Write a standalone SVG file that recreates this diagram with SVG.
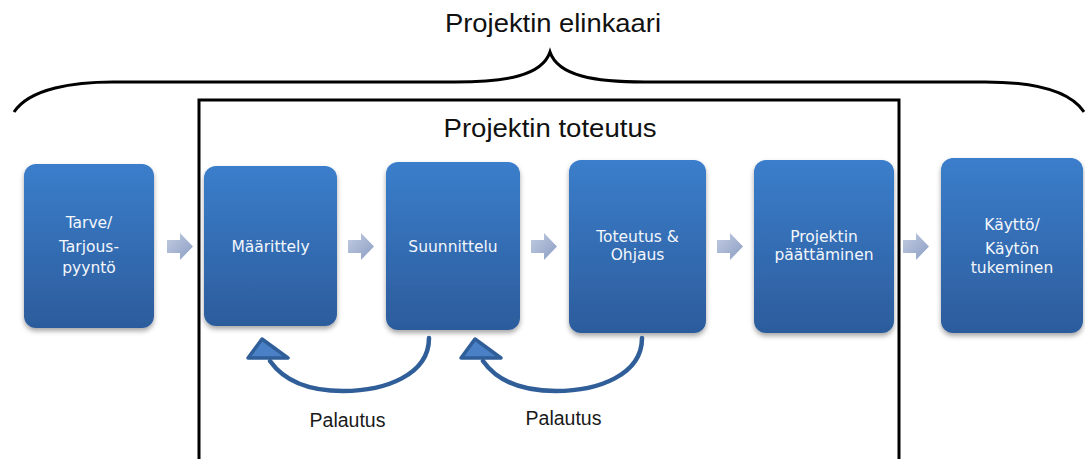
<svg xmlns="http://www.w3.org/2000/svg" width="1085" height="459" viewBox="0 0 1085 459">
  <style>
    .box { fill: url(#boxFill); filter: url(#boxShadow); }
    .lbl { font-family: "DejaVu Sans", "Liberation Sans", sans-serif; font-size: 15.5px; fill: #f4f7fc; text-anchor: middle; }
    .head { font-family: "Liberation Sans", Arial, sans-serif; font-size: 26px; fill: #111; text-anchor: middle; }
    .fb { font-family: "Liberation Sans", Arial, sans-serif; font-size: 19.5px; fill: #1a1a1a; text-anchor: middle; }
    .frame { fill: none; stroke: #000; stroke-width: 3; }
    .loop { fill: none; stroke: #2f5e98; stroke-width: 4.5; stroke-linecap: round; }
    .tip { fill: #4a80c6; stroke: #2f5e98; stroke-width: 3.5; stroke-linejoin: round; }
  </style>
  <defs>
    <linearGradient id="boxFill" x1="0" y1="0" x2="0" y2="1">
      <stop offset="0" stop-color="#3b7ecb"/>
      <stop offset="1" stop-color="#2c5c9c"/>
    </linearGradient>
    <linearGradient id="stepFill" x1="0" y1="0" x2="1" y2="1">
      <stop offset="0" stop-color="#c3cde2"/>
      <stop offset="1" stop-color="#8b9dc3"/>
    </linearGradient>
    <filter id="boxShadow" x="-10%" y="-10%" width="125%" height="125%">
      <feDropShadow dx="0" dy="3" stdDeviation="2.5" flood-color="#000" flood-opacity="0.35"/>
    </filter>
    <path id="step" d="M0,-6.5 L13,-6.5 L13,-13.5 L26,0 L13,13.5 L13,6.5 L0,6.5 Z" fill="url(#stepFill)"/>
  </defs>

  <rect width="1085" height="459" fill="#fff"/>

  <!-- lifecycle brace and title -->
  <g id="lifecycle">
    <text class="head" x="553" y="32" textLength="216" lengthAdjust="spacingAndGlyphs">Projektin elinkaari</text>
    <path class="frame" d="M14,112 C30,88 75,82 113,82 L455,82 C505,82 542,76 550,52 C558,76 595,82 645,82 L985,82 C1025,82 1068,88 1084,112"/>
  </g>

  <!-- execution frame -->
  <g id="execution">
    <path class="frame" d="M199,462 L199,100 L899,100 L899,462"/>
    <text class="head" x="550" y="137" textLength="213" lengthAdjust="spacingAndGlyphs">Projektin toteutus</text>
  </g>

  <!-- phases -->
  <g id="tarve">
    <rect class="box" x="24" y="164" width="130" height="164" rx="12"/>
    <text class="lbl" x="89" y="228">Tarve/</text>
    <text class="lbl" x="89" y="252">Tarjous-</text>
    <text class="lbl" x="89" y="273">pyyntö</text>
  </g>
  <g id="maarittely">
    <rect class="box" x="204" y="166" width="133" height="160" rx="12"/>
    <text class="lbl" x="270.5" y="252">Määrittely</text>
  </g>
  <g id="suunnittelu">
    <rect class="box" x="386" y="162" width="134" height="168" rx="12"/>
    <text class="lbl" x="453" y="252">Suunnittelu</text>
  </g>
  <g id="toteutus">
    <rect class="box" x="569" y="160" width="137" height="173" rx="12"/>
    <text class="lbl" x="637.5" y="242">Toteutus &amp;</text>
    <text class="lbl" x="637.5" y="260">Ohjaus</text>
  </g>
  <g id="paattaminen">
    <rect class="box" x="754" y="160" width="140" height="173" rx="12"/>
    <text class="lbl" x="824" y="242">Projektin</text>
    <text class="lbl" x="824" y="260">päättäminen</text>
  </g>
  <g id="kaytto">
    <rect class="box" x="941" y="158" width="142" height="175" rx="12"/>
    <text class="lbl" x="1012" y="230">Käyttö/</text>
    <text class="lbl" x="1012" y="254">Käytön</text>
    <text class="lbl" x="1012" y="273">tukeminen</text>
  </g>

  <!-- connectors -->
  <g id="connectors">
    <use href="#step" transform="translate(167,246.5)"/>
    <use href="#step" transform="translate(348,246.5)"/>
    <use href="#step" transform="translate(531,246.5)"/>
    <use href="#step" transform="translate(717,246.5)"/>
    <use href="#step" transform="translate(903,246.5)"/>

    <path class="loop" d="M429,338 C429,375 385,391 343,391 C305,391 282,378 270,361"/>
    <path class="tip" d="M262,339 L288,358 L248,358 Z"/>
    <text class="fb" x="347.5" y="427">Palautus</text>

    <path class="loop" d="M642,338 C642,375 598,391 556,391 C518,391 495,378 483,361"/>
    <path class="tip" d="M475,339 L501,358 L461,358 Z"/>
    <text class="fb" x="563.5" y="425">Palautus</text>
  </g>
</svg>
